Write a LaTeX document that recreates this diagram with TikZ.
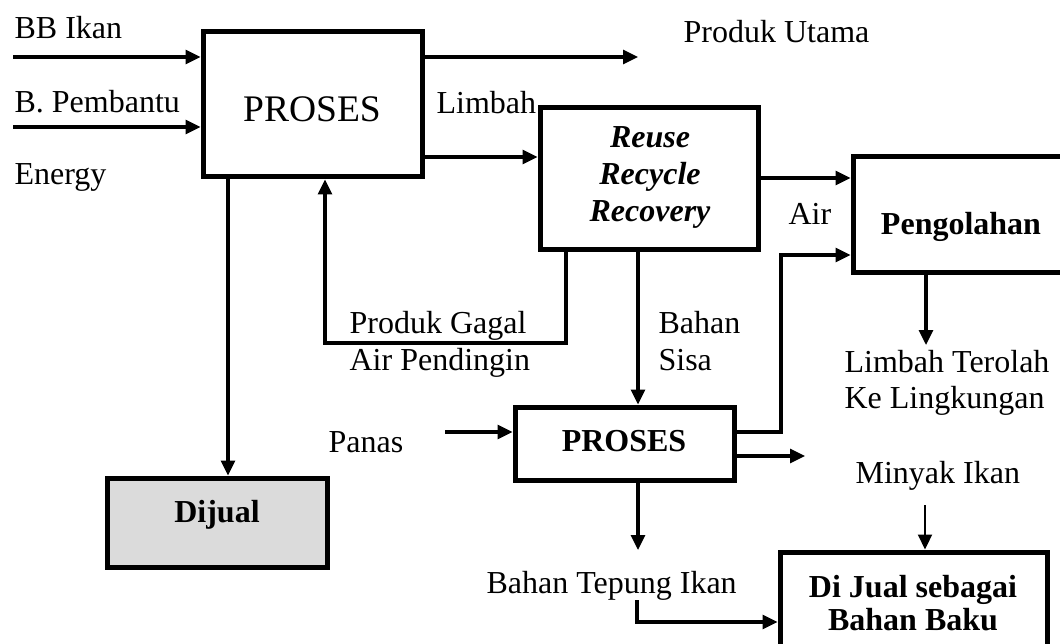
\documentclass[tikz,border=0pt]{standalone}
\usepackage{fontspec}
\setmainfont{Liberation Serif}
\usetikzlibrary{arrows.meta}
\tikzset{
  box/.style={draw,line width=5pt,inner sep=0pt},
  txt/.style={anchor=base west,inner sep=0pt,font=\fontsize{32}{37}\selectfont},
  boxtxt/.style={anchor=base,inner sep=0pt,font=\fontsize{32}{37}\selectfont\bfseries},
}
\begin{document}
\begin{tikzpicture}[x=1pt,y=-1pt,line width=3.2pt,>={Triangle[length=15pt,width=14pt]}]
    \useasboundingbox (0,0) rectangle (1060,644);
    \node[box,minimum width=219pt,minimum height=145pt] (proses1) at (312.5,104.5) {};
    \node[box,minimum width=218pt,minimum height=142pt] (recov) at (649,179) {};
    \node[box,minimum width=211pt,minimum height=116pt] (olah) at (958.5,215) {};
    \node[box,minimum width=219pt,minimum height=73pt] (proses2) at (624.5,443.5) {};
    \node[box,fill=black!14,minimum width=220pt,minimum height=89pt] (dijual) at (217,522.5) {};
    \node[box,minimum width=267pt,minimum height=98pt] (jual) at (913.5,601) {};
    \node[anchor=base,inner sep=0pt,font=\fontsize{37.5}{40}\selectfont] (proses1lbl) at (312,122) {PROSES};
    \node[boxtxt,font=\fontsize{32}{37}\selectfont\bfseries\itshape] (reuse) at (650,148) {Reuse};
    \node[boxtxt,font=\fontsize{32}{37}\selectfont\bfseries\itshape] (recycle) at (650,185) {Recycle};
    \node[boxtxt,font=\fontsize{32}{37}\selectfont\bfseries\itshape] (recovery) at (650,222) {Recovery};
    \node[boxtxt] (olahlbl) at (961,235) {Pengolahan};
    \node[boxtxt] (proses2lbl) at (624,451) {PROSES};
    \node[boxtxt] (dijuallbl) at (217,522) {Dijual};
    \node[boxtxt] (juallbl) at (913,597) {Di Jual sebagai};
    \node[boxtxt] (bakulbl) at (913,630) {Bahan Baku};
    \node[txt] (bbikan) at (13,39) {BB Ikan};
    \node[txt] (pembantu) at (13,113) {B. Pembantu};
    \node[txt] (energy) at (13,185) {Energy};
    \node[txt] (utamalbl) at (682,43) {Produk Utama};
    \node[txt] (limbah) at (435,114) {Limbah};
    \node[txt] (air) at (787,225) {Air};
    \node[txt] (gagal) at (348,333) {Produk Gagal};
    \node[txt] (pendingin) at (348,370) {Air Pendingin};
    \node[txt] (bahan) at (657,333) {Bahan};
    \node[txt] (sisa) at (657,370) {Sisa};
    \node[txt] (terolah) at (843,372) {Limbah Terolah};
    \node[txt] (lingkungan) at (843,408) {Ke Lingkungan};
    \node[txt] (panas) at (327,452) {Panas};
    \node[txt] (minyak) at (854,483) {Minyak Ikan};
    \node[txt] (tepung) at (485,593) {Bahan Tepung Ikan};
    \coordinate (bbin) at (13,57);
    \coordinate (pembin) at (13,127);
    \coordinate (utama) at (638,57);
    \coordinate (lim) at (480,157);
    \coordinate (airy) at (800,178);
    \coordinate (jualx) at (228,300);
    \coordinate (sisax) at (638,300);
    \coordinate (panasin) at (445,432);
    \coordinate (naik) at (781,255);
    \coordinate (minyakout) at (805,456);
    \coordinate (tepungout) at (638,550);
    \coordinate (tepungin) at (637,600);
    \coordinate (tepungbelok) at (637,622);
    \coordinate (minyakin) at (925,505);
    \coordinate (terolahout) at (926,345);
    \coordinate (fbr) at (566,343);
    \coordinate (fbl) at (325,343);
    \draw[->] (bbin) -- (bbin -| proses1.west);
    \draw[->] (pembin) -- (pembin -| proses1.west);
    \draw[->] (utama -| proses1.east) -- (utama);
    \draw[->] (lim -| proses1.east) -- (lim -| recov.west);
    \draw[->] (airy -| recov.east) -- (airy -| olah.west);
    \draw[->] (jualx |- proses1.south) -- (jualx |- dijual.north);
    \draw[->] (sisax |- recov.south) -- (sisax |- proses2.north);
    \draw[->] (fbr |- recov.south) -- (fbr) -- (fbl) -- (fbl |- proses1.south);
    \draw[->] (panasin) -- (panasin -| proses2.west);
    \draw[->] (panasin -| proses2.east) -- (panasin -| naik) -- (naik) -- (naik -| olah.west);
    \draw[->] (minyakout -| proses2.east) -- (minyakout);
    \draw[->] (tepungout |- proses2.south) -- (tepungout);
    \draw[->] (tepungin) -- (tepungbelok) -- (tepungbelok -| jual.west);
    \draw[->,line width=2.2pt] (minyakin) -- (minyakin |- jual.north);
    \draw[->] (terolahout |- olah.south) -- (terolahout);
\end{tikzpicture}
\end{document}
